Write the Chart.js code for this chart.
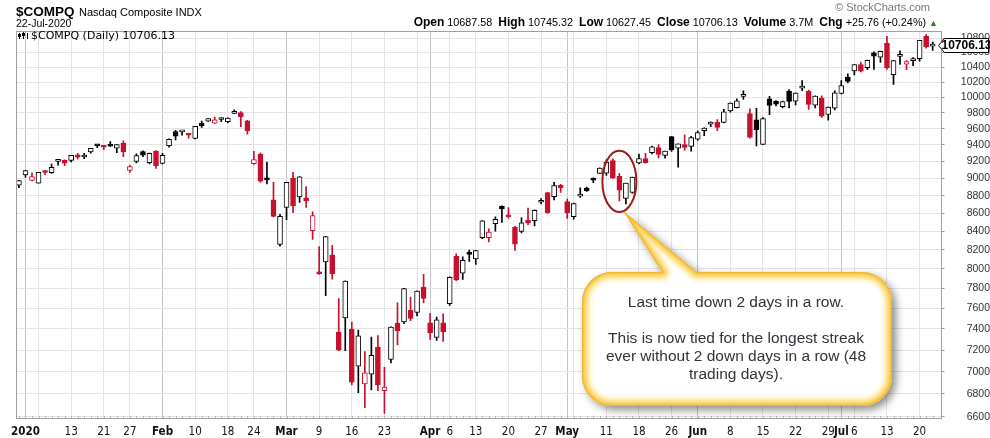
<!DOCTYPE html>
<html><head><meta charset="utf-8">
<script src="https://cdn.jsdelivr.net/npm/chart.js@4.4.1/dist/chart.umd.min.js"></script>
<style>
html,body{margin:0;padding:0;background:#fff;}
#wrap{position:relative;width:990px;height:438px;overflow:hidden;font-family:'Liberation Sans',Arial,sans-serif;color:#000;}
#c{position:absolute;left:0;top:0;}
.abs{position:absolute;white-space:nowrap;}
#quote b{font-size:12px;}
#callout{left:590px;top:293px;width:292px;text-align:center;font-size:15.5px;line-height:18px;color:#33333b;}
</style></head><body>
<div id="wrap">
<canvas id="c" width="990" height="438"></canvas>
<div class="abs" style="left:16px;top:2px;"><span style="font-weight:bold;font-size:13.5px">$COMPQ</span> <span style="font-size:11px">Nasdaq Composite INDX</span></div>
<div class="abs" style="left:16px;top:17px;font-size:10.5px">22-Jul-2020</div>
<div class="abs" style="right:60px;top:1px;font-size:11px;color:#777">© StockCharts.com</div>
<div class="abs" id="quote" style="right:52px;top:15px;font-size:10.8px"><b>Open</b> 10687.58 &nbsp;<b>High</b> 10745.32 &nbsp;<b>Low</b> 10627.45 &nbsp;<b>Close</b> 10706.13 &nbsp;<b>Volume</b> 3.7M &nbsp;<b>Chg</b> +25.76 (+0.24%) <span style="color:#2e7d32;font-size:9px">▲</span></div>
<div class="abs" style="left:31px;top:29px;font-family:'DejaVu Sans',sans-serif;font-size:11px">$COMPQ (Daily) 10706.13</div>
<div class="abs" id="callout">Last time down 2 days in a row.<br><br>This is now tied for the longest streak<br>ever without 2 down days in a row (48<br>trading days).</div>
</div>
<script>
const dates = ['Dec 31','Jan 2','Jan 3','Jan 6','Jan 7','Jan 8','Jan 9','Jan 10','Jan 13','Jan 14','Jan 15','Jan 16','Jan 17','Jan 21','Jan 22','Jan 23','Jan 24','Jan 27','Jan 28','Jan 29','Jan 30','Jan 31',
'Feb 3','Feb 4','Feb 5','Feb 6','Feb 7','Feb 10','Feb 11','Feb 12','Feb 13','Feb 14','Feb 18','Feb 19','Feb 20','Feb 21','Feb 24','Feb 25','Feb 26','Feb 27','Feb 28',
'Mar 2','Mar 3','Mar 4','Mar 5','Mar 6','Mar 9','Mar 10','Mar 11','Mar 12','Mar 13','Mar 16','Mar 17','Mar 18','Mar 19','Mar 20','Mar 23','Mar 24','Mar 25','Mar 26','Mar 27','Mar 30','Mar 31',
'Apr 1','Apr 2','Apr 3','Apr 6','Apr 7','Apr 8','Apr 9','Apr 13','Apr 14','Apr 15','Apr 16','Apr 17','Apr 20','Apr 21','Apr 22','Apr 23','Apr 24','Apr 27','Apr 28','Apr 29','Apr 30',
'May 1','May 4','May 5','May 6','May 7','May 8','May 11','May 12','May 13','May 14','May 15','May 18','May 19','May 20','May 21','May 22','May 26','May 27','May 28','May 29',
'Jun 1','Jun 2','Jun 3','Jun 4','Jun 5','Jun 8','Jun 9','Jun 10','Jun 11','Jun 12','Jun 15','Jun 16','Jun 17','Jun 18','Jun 19','Jun 22','Jun 23','Jun 24','Jun 25','Jun 26','Jun 29','Jun 30',
'Jul 1','Jul 2','Jul 6','Jul 7','Jul 8','Jul 9','Jul 10','Jul 13','Jul 14','Jul 15','Jul 16','Jul 17','Jul 20','Jul 21','Jul 22'];
const open = [8920,9039,8976,8943,9069,9068,9200,9212,9212,9280,9253,9316,9390,9374,9396,9360,9423,9092,9201,9320,9186,9324,
9175,9390,9565,9560,9533,9478,9670,9696,9669,9716,9689,9793,9803,9698,9172,9286,9005,8751,8260,
8667,9000,8784,8776,8407,7957,8074,8145,7370,7507,7395,7050,6890,6977,7225,6830,7112,7457,7467,7580,7560,7813,
7459,7320,7460,7646,8136,7956,8170,8104,8332,8332,8486,8681,8566,8444,8399,8526,8517,8725,8834,8789,8918,
8733,8562,8794,8886,8983,9057,9060,9210,9024,8769,8838,9183,9235,9305,9367,9273,9501,9360,9405,9382,
9470,9577,9657,9680,9680,9823,9867,10012,9792,9710,9407,9980,9950,9880,10081,9950,10120,10077,9899,9990,9779,9860,
10051,10265,10350,10436,10394,10595,10536,10725,10300,10547,10440,10489,10515,10830,10687.58];
const high = [8973,9093,9065,9072,9091,9168,9211,9218,9274,9298,9298,9358,9393,9380,9440,9403,9451,9153,9290,9327,9300,9330,
9299,9474,9579,9575,9541,9630,9695,9727,9745,9733,9738,9838,9816,9705,9323,9304,9193,8953,8590,
8955,9070,9020,8903,8618,8236,8347,8250,7698,7877,7467,7390,7186,7323,7337,7040,7420,7656,7800,7712,7777,7945,
7552,7515,7547,7918,8159,8127,8199,8195,8520,8429,8561,8685,8664,8455,8550,8658,8640,8765,8839,8954,8930,
8760,8714,8891,8898,9006,9124,9218,9232,9058,8946,9016,9288,9297,9387,9403,9326,9504,9414,9523,9505,
9571,9610,9686,9716,9845,9927,9980,10086,9850,9858,9741,10011,9956,9950,10102,10059,10221,10094,10019,10018,9876,10086,
10221,10310,10436,10468,10495,10610,10619,10824,10490,10624,10490,10530,10770,10848,10745.32];
const low = [8892,9010,8970,8943,9042,9059,9156,9150,9194,9231,9232,9299,9366,9341,9380,9305,9258,9071,9182,9257,9170,9116,
9170,9373,9460,9520,9484,9472,9617,9690,9665,9689,9673,9790,9625,9533,9163,8952,8935,8560,8240,
8528,8608,8722,8667,8313,7943,7727,7894,7194,7195,6880,6812,6680,6835,6830,6631,7080,7248,7450,7481,7526,7654,
7301,7291,7280,7630,7880,7892,8080,8048,8322,8287,8403,8500,8545,8196,8383,8475,8460,8705,8600,8751,8836,
8543,8535,8779,8848,8950,9054,9034,8998,8740,8705,8826,9170,9180,9290,9243,9238,9322,9131,9335,9324,
9455,9514,9626,9575,9671,9807,9863,9973,9484,9386,9403,9778,9887,9863,9862,9901,10085,9843,9864,9741,9708,9837,
10045,10190,10294,10335,10365,10370,10464,10370,10170,10436,10365,10420,10480,10658,10627.45];
const close = [8972.60,9092.19,9020.77,9071.47,9068.58,9129.24,9203.43,9178.86,9273.93,9251.33,9258.70,9357.13,9388.94,9370.81,9383.77,9402.48,9314.91,9139.31,9269.68,9275.16,9298.93,9150.94,
9273.40,9467.97,9508.68,9572.15,9520.51,9628.39,9638.94,9725.96,9711.97,9731.18,9732.74,9817.18,9750.97,9576.59,9221.28,8965.61,8980.77,8566.48,8567.37,
8952.17,8684.09,9018.09,8738.60,8575.62,7950.68,8344.25,7952.05,7201.80,7874.88,6904.59,7334.78,6989.84,7150.58,6879.52,6860.67,7417.86,7384.30,7797.54,7502.38,7774.15,7700.10,
7360.58,7487.31,7373.08,7913.24,7887.26,8090.90,8153.58,8192.42,8515.74,8393.18,8532.36,8650.14,8560.73,8263.23,8495.38,8494.75,8634.52,8730.16,8607.73,8914.71,8889.55,
8604.95,8710.71,8809.12,8854.39,8979.66,9121.32,9192.34,9002.55,8863.17,8943.72,9014.56,9234.83,9185.10,9375.78,9284.88,9324.59,9340.22,9412.36,9368.99,9489.87,
9552.05,9608.38,9682.91,9615.81,9814.08,9924.75,9953.75,10020.35,9492.73,9588.81,9726.02,9895.87,9910.53,9943.05,9946.12,10056.48,10131.37,9909.17,10017.00,9757.22,9874.15,10058.77,
10154.63,10207.63,10433.65,10343.89,10492.50,10547.75,10617.44,10390.84,10488.58,10550.49,10473.83,10503.19,10767.09,10680.36,10706.13];

const gridDates = ['Jan 2','Jan 6','Jan 13','Jan 21','Jan 27','Feb 3','Feb 10','Feb 18','Feb 24','Mar 2','Mar 9','Mar 16','Mar 23','Mar 30','Apr 1','Apr 6','Apr 13','Apr 20','Apr 27','May 1','May 4','May 11','May 18','May 26','Jun 1','Jun 8','Jun 15','Jun 22','Jun 29','Jul 1','Jul 6','Jul 13','Jul 20'];
const gridText  = ['2020','','13','21','27','Feb','10','18','24','Mar','9','16','23','','Apr','6','13','20','27','May','','11','18','26','Jun','8','15','22','29','Jul','6','13','20'];
const monthDates = ['Jan 2','Feb 3','Mar 2','Apr 1','May 1','Jun 1','Jul 1'];
const yTicks = [6600,6800,7000,7200,7400,7600,7800,8000,8200,8400,8600,8800,9000,9200,9400,9600,9800,10000,10200,10400,10600,10800];
const lastPrice = 10706.13;
const streakStart = 'May 11', streakEnd = 'May 15';

const RED = '#c8102e', BLK = '#000000';
const col = close.map((c,i) => (i > 0 && c < close[i-1]) ? RED : BLK);
const fill = close.map((c,i) => c >= open[i] ? '#ffffff' : col[i]);
const gridIdx = gridDates.map(d => dates.indexOf(d));
const monthIdx = new Set(monthDates.map(d => dates.indexOf(d)));
const labelOf = {};
gridIdx.forEach((ix,k) => labelOf[ix] = gridText[k]);

const overlays = {
  id: 'overlays',
  beforeDatasetsDraw(chart) {
    const {ctx, chartArea: a, scales: {x}} = chart;
    ctx.save();
    ctx.fillStyle = '#b8b8b8';
    for (let i = 0; i < dates.length; i++) {
      const px = Math.round(x.getPixelForValue(i)) + 0.5;
      ctx.fillRect(px - 0.5, a.bottom - 2, 1, 2);
    }
    ctx.restore();
  },
  afterDatasetsDraw(chart) {
    const {ctx, chartArea: a} = chart;
    ctx.save();
    ctx.strokeStyle = '#a0a0a0';
    ctx.lineWidth = 1;
    ctx.strokeRect(Math.round(a.left) + 0.5, Math.round(a.top) + 0.5, Math.round(a.right - a.left), Math.round(a.bottom - a.top));
    ctx.fillStyle = '#000';
    ctx.fillRect(19, 33, 1, 6); ctx.fillRect(18, 34, 3, 3);
    ctx.fillRect(23, 32, 1, 7); ctx.fillRect(22, 33, 3, 3);
    ctx.fillRect(27, 33, 1, 6);
    ctx.restore();
  },
  afterDraw(chart) {
    const {ctx, scales: {x, y}} = chart;
    const i0 = dates.indexOf(streakStart), i1 = dates.indexOf(streakEnd);
    const cx = (x.getPixelForValue(i0) + x.getPixelForValue(i1)) / 2;
    const yTop = y.getPixelForValue(Math.max(...high.slice(i0, i1 + 1)));
    const yBot = y.getPixelForValue(Math.min(...low.slice(i0, i1 + 1)));
    const cy = (yTop + yBot) / 2, ry = (yBot - yTop) / 2 + 8, rx = 17;
    const L = 582, T = 272, R = 892, B = 406, r = 30;
    const tipX = cx + 4, tipY = cy + ry - 1;
    const path = () => {
      ctx.beginPath();
      ctx.moveTo(L + r, T);
      ctx.lineTo(662, T);
      ctx.lineTo(tipX, tipY);
      ctx.lineTo(697, T);
      ctx.lineTo(R - r, T);
      ctx.arcTo(R, T, R, T + r, r);
      ctx.lineTo(R, B - r);
      ctx.arcTo(R, B, R - r, B, r);
      ctx.lineTo(L + r, B);
      ctx.arcTo(L, B, L, B - r, r);
      ctx.lineTo(L, T + r);
      ctx.arcTo(L, T, L + r, T, r);
      ctx.closePath();
    };
    ctx.save();
    path();
    ctx.shadowColor = 'rgba(0,0,0,0.45)';
    ctx.shadowBlur = 9;
    ctx.shadowOffsetX = 4;
    ctx.shadowOffsetY = 4;
    ctx.fillStyle = '#ffffff';
    ctx.fill();
    ctx.restore();
    ctx.save();
    path();
    ctx.clip();
    const rings = [[22,'#fffaea'],[17,'#fff1c6'],[13,'#fde69c'],[9,'#fbd873'],[5,'#f6c74e'],[2,'#eeb52f']];
    ctx.lineJoin = 'round';
    for (const [w,c] of rings) { path(); ctx.lineWidth = w; ctx.strokeStyle = c; ctx.stroke(); }
    ctx.restore();
    ctx.save();
    ctx.beginPath();
    ctx.ellipse(cx, cy, rx, ry, 0, 0, Math.PI * 2);
    ctx.strokeStyle = '#9e1a1a';
    ctx.lineWidth = 2;
    ctx.stroke();
    ctx.restore();
    const py = Math.round(y.getPixelForValue(lastPrice)) + 0.5;
    ctx.save();
    ctx.beginPath();
    ctx.moveTo(938.5, py);
    ctx.lineTo(944.5, py - 7);
    ctx.lineTo(988.5, py - 7);
    ctx.lineTo(988.5, py + 7);
    ctx.lineTo(944.5, py + 7);
    ctx.closePath();
    ctx.fillStyle = '#fff';
    ctx.fill();
    ctx.strokeStyle = '#000';
    ctx.lineWidth = 1;
    ctx.stroke();
    ctx.fillStyle = '#000';
    ctx.font = 'bold 12px "Liberation Sans", Arial, sans-serif';
    ctx.textAlign = 'center';
    ctx.textBaseline = 'middle';
    ctx.fillText(lastPrice.toFixed(2), 966.5, py + 0.5);
    ctx.restore();
  }
};

new Chart(document.getElementById('c'), {
  type: 'bar',
  data: {
    datasets: [
      { label: 'Body', data: dates.map((d,i) => ({x: i, y: [open[i], close[i]]})),
        backgroundColor: fill, borderColor: col, borderWidth: 1, borderSkipped: false,
        barThickness: 5, grouped: false, minBarLength: 2, order: 0 },
      { label: 'Wick', data: dates.map((d,i) => ({x: i, y: [low[i], high[i]]})),
        backgroundColor: col, borderWidth: 0, barThickness: 1, grouped: false, order: 1 }
    ]
  },
  plugins: [overlays],
  options: {
    responsive: false,
    animation: false,
    devicePixelRatio: 1,
    layout: { padding: { left: 16, top: 31, right: 0, bottom: 0 } },
    plugins: { legend: { display: false }, tooltip: { enabled: false } },
    scales: {
      x: {
        type: 'linear', min: -0.45, max: 141.2, bounds: 'data', offset: false,
        afterBuildTicks: s => { s.ticks = gridIdx.map(v => ({ value: v })); },
        afterFit: s => { s.height = 20; },
        grid: { offset: false, drawTicks: false,
          color: c => (c.tick && monthIdx.has(c.tick.value)) ? '#c2c2c2' : '#e4e4e4' },
        border: { display: false },
        ticks: {
          autoSkip: false, maxRotation: 0, padding: 7, color: '#111',
          callback: v => labelOf[v] !== undefined ? labelOf[v] : '',
          font: c => ({ family: '"Liberation Sans Narrow","DejaVu Sans Condensed","Arial Narrow",sans-serif', size: 11.5,
            weight: (c.tick && (monthIdx.has(c.tick.value))) ? 'bold' : 'normal' })
        }
      },
      y: {
        type: 'logarithmic', position: 'right', min: 6591, max: 10900, bounds: 'data',
        afterBuildTicks: s => { s.ticks = yTicks.map(v => ({ value: v })); },
        afterFit: s => { s.width = 49.5; },
        grid: { color: '#e4e4e4', tickLength: 4, tickColor: '#9a9a9a' },
        border: { display: false },
        ticks: { padding: 0, crossAlign: 'far', color: '#333',
          font: { family: '"Liberation Sans",Arial,sans-serif', size: 10.5 },
          callback: v => String(v) }
      }
    }
  }
});
</script>
</body></html>
